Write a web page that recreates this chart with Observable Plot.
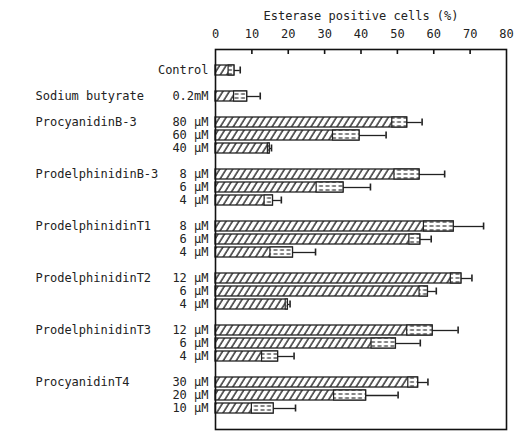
<!DOCTYPE html>
<html>
<head>
<meta charset="utf-8">
<script src="https://cdn.jsdelivr.net/npm/d3@7"></script>
<script src="https://cdn.jsdelivr.net/npm/@observablehq/plot@0.6"></script>
<style>
  html, body { margin: 0; padding: 0; background: #fff; }
  #chart svg { display: block; }
</style>
</head>
<body>
<div id="chart"></div>
<script>
// Esterase-positive cells (%) after treatment, mean ± error
const compounds = [
  "Control", "Sodium butyrate",
  "ProcyanidinB-3", "ProcyanidinB-3", "ProcyanidinB-3",
  "ProdelphinidinB-3", "ProdelphinidinB-3", "ProdelphinidinB-3",
  "ProdelphinidinT1", "ProdelphinidinT1", "ProdelphinidinT1",
  "ProdelphinidinT2", "ProdelphinidinT2", "ProdelphinidinT2",
  "ProdelphinidinT3", "ProdelphinidinT3", "ProdelphinidinT3",
  "ProcyanidinT4", "ProcyanidinT4", "ProcyanidinT4"
];
const doses = [
  "Control", "0.2mM",
  "80 μM", "60 μM", "40 μM",
  "8 μM", "6 μM", "4 μM",
  "8 μM", "6 μM", "4 μM",
  "12 μM", "6 μM", "4 μM",
  "12 μM", "6 μM", "4 μM",
  "30 μM", "20 μM", "10 μM"
];
const means = [
  5.2, 8.7,
  52.7, 39.6, 14.9,
  56.1, 35.2, 15.8,
  65.5, 56.3, 21.3,
  67.6, 58.4, 19.9,
  59.7, 49.6, 17.2,
  55.7, 41.4, 16.0
];
const errors = [
  1.6, 3.6,
  4.1, 7.3, 0.5,
  6.9, 7.4, 2.3,
  8.2, 3.0, 6.2,
  2.9, 2.3, 0.6,
  7.0, 6.7, 4.4,
  2.7, 8.8, 6.0
];
const xTicks = [0, 10, 20, 30, 40, 50, 60, 70, 80];

const rows = compounds.map((c, i) => ({
  key: `${c}|${doses[i]}|${i}`,
  compound: c,
  dose: doses[i],
  mean: means[i],
  err: errors[i],
  first: i === 0 || compounds[i - 1] !== c
}));

// band domain with an empty slot between compounds
const yDomain = [];
rows.forEach((r, i) => {
  if (i > 0 && r.first) yDomain.push(`gap-${i}`);
  yDomain.push(r.key);
});

const W = 515, H = 442;
const mL = 215, mR = 9, mT = 49, mB = 13;
const frameH = H - mT - mB;
const font = "'DejaVu Sans Mono', monospace";
const ink = "#222";

// hatch fills: diagonal stripes for bars, short dashes for the lower error box
function patterns() {
  const g = d3.create("svg:g");
  const defs = g.append("defs");
  const hatch = defs.append("pattern")
    .attr("id", "hatch").attr("patternUnits", "userSpaceOnUse")
    .attr("width", 5.5).attr("height", 10)
    .attr("patternTransform", "rotate(32)");
  hatch.append("rect").attr("width", 5.5).attr("height", 10).attr("fill", "#fff");
  hatch.append("line").attr("x1", 1).attr("x2", 1).attr("y1", 0).attr("y2", 10)
    .attr("stroke", "#333").attr("stroke-width", 1.5);
  const dash = defs.append("pattern")
    .attr("id", "dash").attr("patternUnits", "userSpaceOnUse")
    .attr("width", 6.5).attr("height", 4);
  dash.append("rect").attr("width", 6.5).attr("height", 4).attr("fill", "#fff");
  dash.append("line").attr("x1", 0.5).attr("x2", 4.5).attr("y1", 2).attr("y2", 2)
    .attr("stroke", "#333").attr("stroke-width", 1.2);
  return g.node();
}

const chart = Plot.plot({
  width: W,
  height: H,
  marginLeft: mL,
  marginRight: mR,
  marginTop: mT,
  marginBottom: mB,
  style: { fontFamily: font, fontSize: "11.5px", color: ink, background: "#fff" },
  x: { domain: [0, 80] },
  y: { type: "band", domain: yDomain, paddingInner: 0.22, paddingOuter: 1.14, axis: null },
  marks: [
    patterns,
    Plot.axisX(xTicks, {
      anchor: "top",
      tickSize: 0,
      tickPadding: 12,
      label: "Esterase positive cells (%)",
      labelAnchor: "center",
      labelArrow: "none",
      labelOffset: 38,
      fontSize: 12,
      fill: ink
    }),
    // inward tick marks along the top of the frame
    Plot.ruleX(xTicks.slice(1, -1), { x: d => d, insetBottom: frameH - 5, stroke: "#111", strokeWidth: 1.6 }),
    Plot.barX(rows, { x: "mean", y: "key", fill: "url(#hatch)", stroke: "#222", strokeWidth: 1.3 }),
    Plot.barX(rows, { x1: d => d.mean - d.err, x2: "mean", y: "key", fill: "url(#dash)", stroke: "#222", strokeWidth: 1.2 }),
    Plot.ruleY(rows, { x1: "mean", x2: d => d.mean + d.err, y: "key", stroke: "#222", strokeWidth: 1.3 }),
    Plot.tickX(rows, { x: d => d.mean + d.err, y: "key", insetTop: 1.5, insetBottom: 1.5, stroke: "#222", strokeWidth: 1.6 }),
    Plot.text(rows, {
      y: "key", text: "dose", frameAnchor: "left", dx: -7, textAnchor: "end",
      fill: ink, fontSize: 12
    }),
    Plot.text(rows.filter(r => r.first && r.compound !== "Control"), {
      y: "key", text: "compound", frameAnchor: "left", dx: -180, textAnchor: "start",
      fill: ink, fontSize: 12
    }),
    Plot.frame({ stroke: "#111", strokeWidth: 1.6 })
  ]
});

document.getElementById("chart").appendChild(chart);
</script>
</body>
</html>
